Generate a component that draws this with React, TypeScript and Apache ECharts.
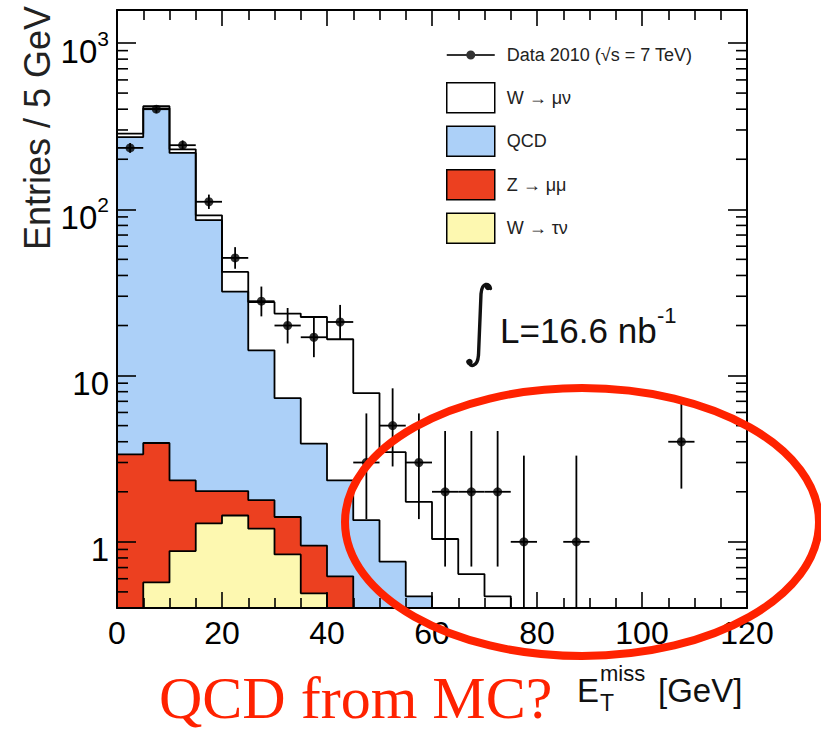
import React, { useEffect, useRef } from 'react';
import * as echarts from 'echarts';

// ---------- data ----------
const BIN_WIDTH = 5;
const binLowEdges = [0, 5, 10, 15, 20, 25, 30, 35, 40, 45, 50, 55, 60, 65, 70, 75, 80, 85, 90, 95, 100, 105, 110, 115];

// stacked MC contributions per 5 GeV bin (bottom of stack first)
const wTauNu = [0, 0.57, 0.88, 1.29, 1.44, 1.2, 0.84, 0.49, 0, 0, 0, 0, 0, 0, 0, 0, 0, 0, 0, 0, 0, 0, 0, 0];
const zMuMu = [3.36, 3.36, 1.46, 0.73, 0.58, 0.58, 0.57, 0.46, 0.62, 0, 0, 0, 0, 0, 0, 0, 0, 0, 0, 0, 0, 0, 0, 0];
const qcd = [268, 401, 216, 84, 30, 12.4, 5.9, 2.95, 1.72, 1.35, 0.76, 0.47, 0, 0, 0, 0, 0, 0, 0, 0, 0, 0, 0, 0];
const wMuNu = [14, 12, 11, 6, 10, 13.5, 16.3, 18.6, 14.2, 6.5, 2.7, 1.27, 1.04, 0.64, 0.47, 0, 0, 0, 0, 0, 0, 0, 0, 0];

// data 2010 counts and asymmetric errors
const dataCounts = [234, 400, 243, 111, 51, 28, 20, 17, 21, 3, 5, 3, 2, 2, 2, 1, 0, 1, 0, 0, 0, 4, 0, 0];
const dataErrLow = [15.3, 20, 15.6, 10.5, 7.1, 5.3, 4.4, 4.1, 4.6, 1.63, 2.16, 1.63, 1.29, 1.29, 1.29, 0.83, 0, 0.83, 0, 0, 0, 1.91, 0, 0];
const dataErrHigh = [16.3, 20.5, 16.6, 11.6, 8.2, 6.3, 5.5, 5.2, 5.6, 2.92, 3.38, 2.92, 2.64, 2.64, 2.64, 2.3, 0, 2.3, 0, 0, 0, 3.16, 0, 0];

const seriesNames = ['W → μν', 'QCD', 'Z → μμ', 'W → τν'];
const seriesColors = ['#ffffff', '#acd0f8', '#ec4020', '#fdf8b0'];
const DATA_NAME = 'Data 2010 (√s = 7 TeV)';

const X_MIN = 0;
const X_MAX = 120;
const X_INTERVAL = 20;
const Y_MIN = 0.4;
const Y_MAX = 1580;
const FLOOR = 1e-3;

const FONT = '"Liberation Sans", Arial, Helvetica, sans-serif';
const SERIF = '"Liberation Serif", "Times New Roman", serif';

const INTEGRAL_D = 'M 490.5 288.5 C 489.5 283 482 281.5 481 294 L 478.5 355 C 477.5 367.5 470 367.5 468 361.5';

function cumulate(...parts: number[][]) {
  return parts[0].map((_, i) => parts.reduce((s, p) => s + p[i], 0));
}

function stepData(vals: number[]) {
  const pts = vals.map((v, i) => [binLowEdges[i], v > 0 ? v : FLOOR]);
  pts.push([binLowEdges[binLowEdges.length - 1] + BIN_WIDTH, FLOOR]);
  return pts;
}

export default function App() {
  const ref = useRef<HTMLDivElement>(null);

  useEffect(() => {
    if (!ref.current) return;
    try {
      echarts.graphic.registerShape('integralSign', echarts.graphic.extendPath(INTEGRAL_D, {}) as any);
    } catch (e) {
      /* ignore */
    }
    const chart = echarts.init(ref.current, null, { renderer: 'svg' });

    const yellowTop = cumulate(wTauNu);
    const redTop = cumulate(wTauNu, zMuMu);
    const blueTop = cumulate(wTauNu, zMuMu, qcd);
    const whiteTop = cumulate(wTauNu, zMuMu, qcd, wMuNu);
    const tops = [whiteTop, blueTop, redTop, yellowTop];

    const histSeries = tops.map((vals, k) => ({
      name: seriesNames[k],
      type: 'line',
      step: 'end',
      data: stepData(vals),
      symbol: 'none',
      showSymbol: false,
      color: seriesColors[k],
      lineStyle: { color: '#000', width: 1.8 },
      areaStyle: { color: seriesColors[k], opacity: 1, origin: 'start' },
      clip: true,
      silent: true,
      z: 2,
    }));

    const points = dataCounts
      .map((n, i) => [binLowEdges[i] + BIN_WIDTH / 2, n, dataErrLow[i], dataErrHigh[i]])
      .filter((p) => p[1] > 0);

    const minorVals: number[][] = [];
    for (let e = -1; e <= 3; e++) {
      for (let m = 2; m <= 9; m++) {
        const v = m * Math.pow(10, e);
        if (v > Y_MIN && v < Y_MAX) minorVals.push([X_MIN, v]);
      }
    }

    const xAxisBase = {
      type: 'value',
      min: X_MIN,
      max: X_MAX,
      interval: X_INTERVAL,
      z: 5,
      axisLine: { show: true, onZero: false, lineStyle: { color: '#000', width: 2 } },
      axisTick: { show: true, inside: true, length: 16, lineStyle: { color: '#000', width: 1.6 } },
      minorTick: { show: true, splitNumber: 4, length: 10, lineStyle: { color: '#000', width: 1.6 } },
      splitLine: { show: false },
      minorSplitLine: { show: false },
    };
    const yAxisBase = {
      type: 'log',
      logBase: 10,
      min: Y_MIN,
      max: Y_MAX,
      z: 5,
      axisLine: { show: true, onZero: false, lineStyle: { color: '#000', width: 2 } },
      axisTick: { show: true, inside: true, length: 19, lineStyle: { color: '#000', width: 1.6 } },
      splitLine: { show: false },
    };

    const option: any = {
      animation: false,
      backgroundColor: '#fff',
      grid: { left: 117, right: 74, top: 10, bottom: 125, containLabel: false, outerBoundsMode: 'none' },
      xAxis: [
        {
          ...xAxisBase,
          position: 'bottom',
          axisLabel: { show: true, margin: 9, fontSize: 32, color: '#000', fontFamily: FONT },
        },
        { ...xAxisBase, position: 'top', axisLabel: { show: false } },
      ],
      yAxis: [
        {
          ...yAxisBase,
          position: 'left',
          axisLabel: {
            show: true,
            margin: 8,
            padding: [9, 0, 0, 0],
            formatter: (v: number) => {
              const e = Math.log10(v);
              const r = Math.round(e);
              if (Math.abs(e - r) > 1e-6) return '';
              if (r === 0) return '{b|1}';
              if (r === 1) return '{b|10}';
              return `{b|10}{s|${r}}`;
            },
            rich: {
              b: { fontSize: 33, lineHeight: 40, verticalAlign: 'bottom', color: '#000', fontFamily: FONT },
              s: { fontSize: 21, lineHeight: 21, verticalAlign: 'top', color: '#000', fontFamily: FONT },
            },
          },
        },
        { ...yAxisBase, position: 'right', axisLabel: { show: false } },
      ],
      legend: {
        orient: 'vertical',
        left: 446,
        top: 40,
        padding: 0,
        itemWidth: 48,
        itemHeight: 30,
        itemGap: 12,
        selectedMode: false,
        textStyle: { fontSize: 18, color: '#222', fontFamily: FONT, padding: [0, 0, 0, 7] },
        data: [
          {
            name: DATA_NAME,
            icon: 'path://M0,0L0.01,0L0,0.01Z M0,14L48,14L48,16L0,16Z M19.5,15A4.5,4.5,0,1,1,28.5,15A4.5,4.5,0,1,1,19.5,15Z M48,30L47.99,30L48,29.99Z',
            itemStyle: { color: '#000', borderWidth: 0 },
          },
          ...seriesNames.map((n, k) => ({
            name: n,
            icon: 'rect',
            itemStyle: { color: seriesColors[k], borderColor: '#000', borderWidth: 1.5 },
          })),
        ],
      },
      series: [
        ...histSeries,
        {
          name: 'minorTicks',
          type: 'custom',
          silent: true,
          z: 6,
          data: minorVals,
          renderItem: (params: any, api: any) => {
            const v = api.value(1);
            const pl = api.coord([X_MIN, v]);
            const pr = api.coord([X_MAX, v]);
            const st = { stroke: '#000', lineWidth: 1.6 };
            return {
              type: 'group',
              children: [
                { type: 'line', shape: { x1: pl[0], y1: pl[1], x2: pl[0] + 11, y2: pl[1] }, style: st },
                { type: 'line', shape: { x1: pr[0], y1: pr[1], x2: pr[0] - 11, y2: pr[1] }, style: st },
              ],
            };
          },
        },
        {
          name: 'dataErrors',
          type: 'custom',
          silent: true,
          z: 7,
          data: points,
          renderItem: (params: any, api: any) => {
            const x = api.value(0);
            const n = api.value(1);
            const lo = api.value(2);
            const hi = api.value(3);
            const c = api.coord([x, n]);
            const l = api.coord([x - BIN_WIDTH / 2, n]);
            const r = api.coord([x + BIN_WIDTH / 2, n]);
            const t = api.coord([x, n + hi]);
            const b = api.coord([x, Math.max(n - lo, Y_MIN)]);
            const st = { stroke: '#000', lineWidth: 1.8 };
            return {
              type: 'group',
              children: [
                { type: 'line', shape: { x1: l[0], y1: c[1], x2: r[0], y2: c[1] }, style: st },
                { type: 'line', shape: { x1: c[0], y1: t[1], x2: c[0], y2: b[1] }, style: st },
              ],
            };
          },
        },
        {
          name: DATA_NAME,
          type: 'scatter',
          symbol: 'circle',
          symbolSize: 9,
          color: '#000',
          itemStyle: { color: '#000' },
          data: points.map((p) => [p[0], p[1]]),
          silent: true,
          z: 8,
        },
      ],
      graphic: [
        {
          type: 'text',
          x: 37,
          y: 128,
          rotation: Math.PI / 2,
          style: { text: 'Entries / 5 GeV', fontSize: 36, fontFamily: FONT, fill: '#222', align: 'center', verticalAlign: 'middle' },
        },
        { type: 'text', x: 577, y: 690, style: { text: 'E', fontSize: 33, fontFamily: FONT, fill: '#111', align: 'left', verticalAlign: 'middle' } },
        { type: 'text', x: 600, y: 673, style: { text: 'miss', fontSize: 22, lineHeight: 22, fontFamily: FONT, fill: '#111', align: 'left', verticalAlign: 'middle' } },
        { type: 'text', x: 600, y: 703, style: { text: 'T', fontSize: 23, lineHeight: 23, fontFamily: FONT, fill: '#111', align: 'left', verticalAlign: 'middle' } },
        { type: 'text', x: 658, y: 690, style: { text: '[GeV]', fontSize: 33, fontFamily: FONT, fill: '#111', align: 'left', verticalAlign: 'middle' } },
        { type: 'integralSign', x: 0, y: 0, style: { fill: 'none', stroke: '#111', lineWidth: 3.4, lineCap: 'round' } },
        { type: 'circle', shape: { cx: 488, cy: 287, r: 3.2 }, style: { fill: '#111' } },
        { type: 'circle', shape: { cx: 469.5, cy: 362, r: 3.2 }, style: { fill: '#111' } },
        { type: 'text', x: 500, y: 330, style: { text: 'L=16.6 nb', fontSize: 35, fontFamily: FONT, fill: '#111', align: 'left', verticalAlign: 'middle' } },
        { type: 'text', x: 657, y: 315, style: { text: '-1', fontSize: 22, fontFamily: FONT, fill: '#111', align: 'left', verticalAlign: 'middle' } },
        {
          type: 'ellipse',
          z: 100,
          shape: { cx: 582, cy: 522, rx: 237, ry: 134 },
          style: { fill: 'none', stroke: '#ff2200', lineWidth: 8 },
        },
        {
          type: 'text',
          z: 100,
          x: 159,
          y: 698,
          style: { text: 'QCD from MC?', fontSize: 60, lineHeight: 56, fontFamily: SERIF, fill: '#ff2200', align: 'left', verticalAlign: 'middle' },
        },
      ],
    };

    chart.setOption(option);
    return () => chart.dispose();
  }, []);

  return <div ref={ref} style={{ position: 'absolute', left: 0, top: 0, width: 821, height: 733 }} />;
}
